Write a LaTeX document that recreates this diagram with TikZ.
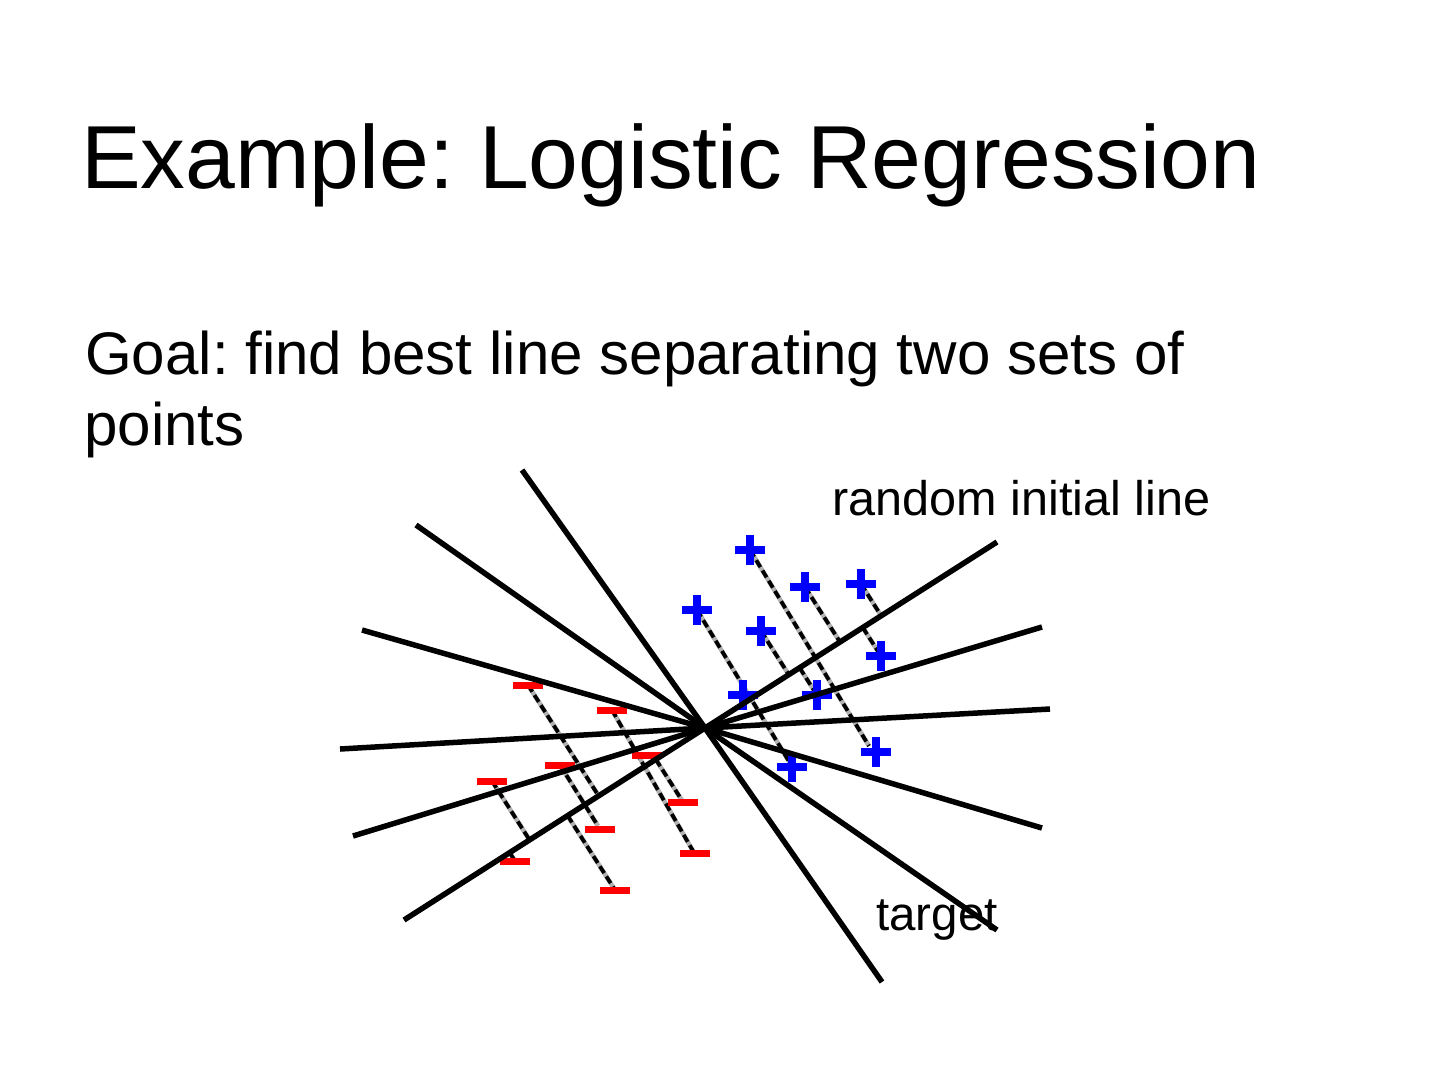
\documentclass[tikz,border=0pt]{standalone}
\usepackage{fontspec}
\setmainfont{Liberation Sans}
\usetikzlibrary{calc}
\frenchspacing
\begin{document}
\begin{tikzpicture}[x=1pt,y=-1pt,
  solidline/.style={line width=5.5pt},
  proj/.style={line width=3.8pt, dash pattern=on 8pt off 4pt,
    preaction={draw=black!30, line width=4.6pt, solid}},
  txt/.style={inner sep=0pt, anchor=base west},
  bplus/.pic={\draw[blue, line width=7.5pt] (-15,0) -- (15,0) (0,-15) -- (0,15);},
  rminus/.pic={\draw[red, line width=7pt] (-15,0) -- (15,0);}]
\useasboundingbox (0,0) rectangle (1440,1080);

% texts
\node[txt, font=\fontsize{89.5}{100}\selectfont] (title) at (81,188) {Example: Logistic Regression};
\node[txt, font=\fontsize{60.1}{72}\selectfont] (goal1) at (85,374) {Goal: find best line separating two sets of};
\node[txt, font=\fontsize{60.1}{72}\selectfont] (goal2) at (84,445) {points};
\node[txt, font=\fontsize{48.6}{56}\selectfont] (lblrand) at (832,515) {random initial line};
\node[txt, font=\fontsize{47.5}{56}\selectfont] (lbltarget) at (876,930) {target};

% line end points
\coordinate (C) at (705,728);
\coordinate (L1a) at (522,470); \coordinate (L1b) at (882,982);
\coordinate (L2a) at (416,525); \coordinate (L2b) at (997,930);
\coordinate (L3a) at (362,630); \coordinate (L3b) at (1042,828);
\coordinate (L4a) at (340,749); \coordinate (L4b) at (1050,709);
\coordinate (L5a) at (353,836); \coordinate (L5b) at (1042,627);
\coordinate (L6a) at (404,920); \coordinate (L6b) at (997,542);

% points
\coordinate (P1) at (750,550);  \coordinate (P2) at (805,587);
\coordinate (P3) at (861,584);  \coordinate (P4) at (697,610);
\coordinate (P5) at (761,631);  \coordinate (P6) at (881,656);
\coordinate (P7) at (743,695);  \coordinate (P8) at (817,695);
\coordinate (P9) at (876,752);  \coordinate (P10) at (792,767);
\coordinate (M1) at (528,685);  \coordinate (M2) at (612,710);
\coordinate (M3) at (647,755);  \coordinate (M4) at (492,781);
\coordinate (M5) at (560,765);  \coordinate (M6) at (515,861);
\coordinate (M7) at (600,829);  \coordinate (M8) at (683,802);
\coordinate (M9) at (695,853);  \coordinate (M10) at (615,890);

% feet on the random initial line
\coordinate (F2) at ($(L6a)!(P2)!(L6b)$);
\coordinate (F3) at ($(L6a)!(P3)!(L6b)$);
\coordinate (F5) at ($(L6a)!(P5)!(L6b)$);
\coordinate (F6) at ($(L6a)!(P6)!(L6b)$);
\coordinate (F8) at ($(L6a)!(P8)!(L6b)$);
\coordinate (G1) at ($(L6a)!(M1)!(L6b)$);
\coordinate (G4) at ($(L6a)!(M4)!(L6b)$);
\coordinate (G6) at ($(L6a)!(M6)!(L6b)$);
\coordinate (G8) at ($(L6a)!(M8)!(L6b)$);
\coordinate (G10) at ($(L6a)!(M10)!(L6b)$);
\coordinate (E1) at (869,746);
\coordinate (E2) at (790,763);
\coordinate (E3) at (693,851);
\coordinate (E4) at (598,826);

% dashed projections
\draw[proj] (P1) -- (E1);
\draw[proj] (P4) -- (E2);
\draw[proj] (P2) -- (F2);
\draw[proj] (P5) -- (F5);
\draw[proj] (F8) -- (P8);
\draw[proj] (P3) -- (F3);
\draw[proj] (F6) -- (P6);
\draw[proj] (M1) -- (G1);
\draw[proj] (M2) -- (E3);
\draw[proj] (G8) -- (M8);
\draw[proj] (M4) -- (G4);
\draw[proj] (G6) -- (M6);
\draw[proj] (M5) -- (E4);
\draw[proj] (G10) -- (M10);

% markers
\foreach \p in {P1,P2,P3,P4,P5,P6,P7,P8,P9,P10} \pic at (\p) {bplus};
\foreach \m in {M1,M2,M3,M4,M5,M6,M7,M8,M9,M10} \pic at (\m) {rminus};

% solid lines
\draw[solidline] (L1a) -- (C) -- (L1b);
\draw[solidline] (L2a) -- (C) -- (L2b);
\draw[solidline] (L3a) -- (C) -- (L3b);
\draw[solidline] (L4a) -- (C) -- (L4b);
\draw[solidline] (L5a) -- (C) -- (L5b);
\draw[solidline] (L6a) -- (C) -- (L6b);
\end{tikzpicture}
\end{document}
